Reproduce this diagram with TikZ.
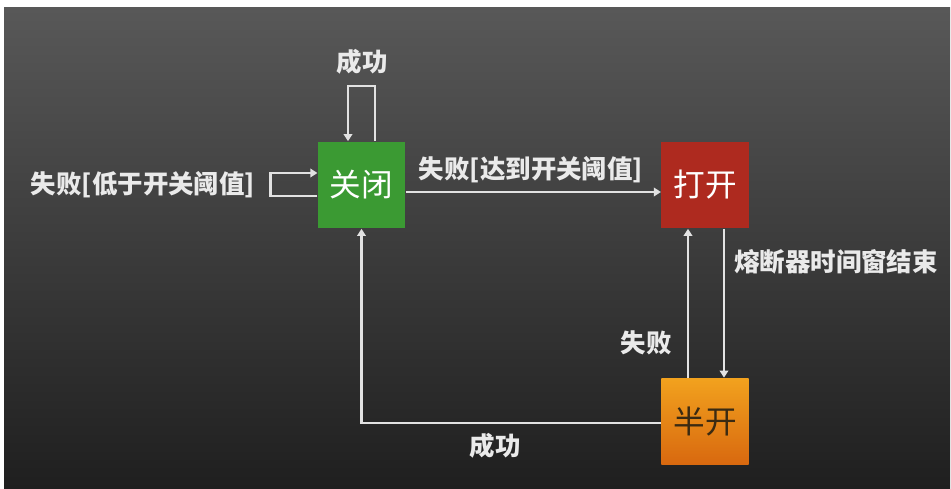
\documentclass[tikz,border=0pt]{standalone}
\usepackage{fontspec}
\setmainfont{Noto Sans CJK SC}
\usetikzlibrary{positioning,calc,arrows.meta}
\definecolor{bgtop}{HTML}{585858}
\definecolor{bgbottom}{HTML}{1F1F1F}
\definecolor{closedgreen}{HTML}{3B9A33}
\definecolor{openred}{HTML}{AE2A1F}
\definecolor{halftop}{HTML}{F2A21E}
\definecolor{halfbottom}{HTML}{D8680F}
\definecolor{halftext}{HTML}{3A2A12}
\definecolor{linegray}{HTML}{E2E2E2}
\definecolor{labelgray}{HTML}{EAEAEA}
\begin{document}
\begin{tikzpicture}[x=0.02cm,y=-0.02cm,
    state/.style={minimum width=1.75cm,minimum height=1.74cm,inner sep=0pt,font=\fontsize{18}{20}\selectfont},
    flow/.style={draw=linegray,line width=1.4pt,-{Triangle[length=1.4mm,width=1.7mm]}},
    lbl/.style={text=labelgray,inner sep=0pt,font=\bfseries\fontsize{14.5}{17}\selectfont}]
    \fill[white] (0,0) rectangle (951,489);
    \shade[top color=bgtop,bottom color=bgbottom] (4,8) rectangle (950,489);

    % states
    \node[state,fill=closedgreen,text=white] (closed) at (361.5,185) {关闭};
    \node[state,fill=openred,text=white] (open) at (705,185) {打开};
    \node[state,top color=halftop,bottom color=halfbottom,text=halftext] (half) at (705,421.5) {半开};

    % transitions
    \draw[flow] ($(closed.north)+(13.5,0)$) -- ++(0,-55) -| ($(closed.north)+(-13.5,0)$);
    \draw[flow] ($(closed.west)+(0,11)$) -- ++(-47,0) |- ($(closed.west)+(0,-12)$);
    \draw[flow] ($(closed.east)+(0,7)$) -- ($(open.west)+(0,7)$);
    \draw[flow] ($(open.south)+(19,0)$) -- ($(half.north)+(19,0)$);
    \draw[flow] ($(half.north)+(-17,0)$) -- ($(open.south)+(-17,0)$);
    \draw[flow] ($(half.west)+(0,1.5)$) -| (closed.south);

    % labels
    \node[lbl] (loopok) at (362,62) {成功};
    \node[lbl] (belowlim) at (143,185) {失败[低于开关阈值]};
    \node[lbl] (reachlim) at (531,170) {失败[达到开关阈值]};
    \node[lbl] (timeout) at (836,262) {熔断器时间窗结束};
    \node[lbl] (halffail) at (646,343) {失败};
    \node[lbl] (halfok) at (495,446) {成功};
\end{tikzpicture}
\end{document}
